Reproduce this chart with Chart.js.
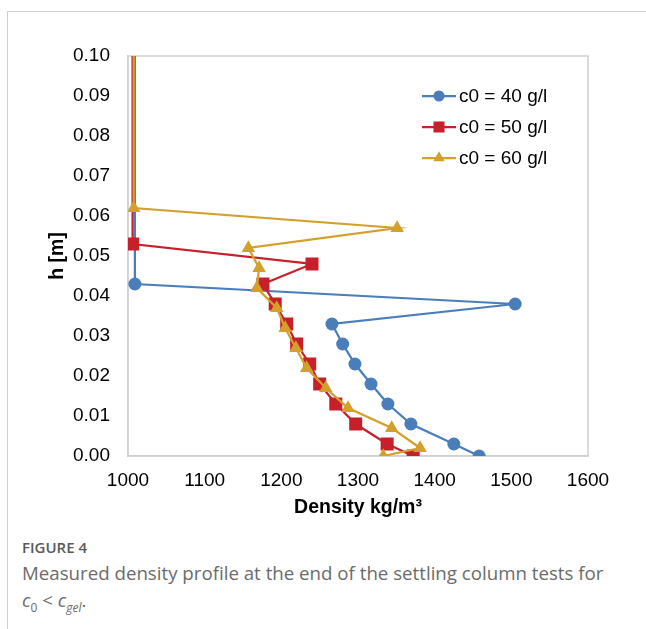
<!DOCTYPE html>
<html lang="en">
<head>
  <meta charset="UTF-8" />
  <title>Figure 4 - Density profile</title>
  <script src="https://cdn.jsdelivr.net/npm/chart.js"></script>
  <style>
    html, body { margin: 0; padding: 0; background: #fff; width: 646px; height: 629px; overflow: hidden; }
    .frame { position: absolute; left: 7px; top: 11px; width: 700px; height: 700px; border: 1px solid #cfcfcf; }
    .chart-box { position: absolute; left: 0; top: 0; width: 646px; height: 530px; }
    .caption { position: absolute; left: 22px; top: 537px; font-family: "Open Sans", "Noto Sans", sans-serif; color: #6b6b6b; }
    .fig-label { font-size: 15px; font-weight: 600; color: #595959; margin-bottom: 2px; }
    .fig-text { font-size: 18.7px; line-height: 27px; }
    .fig-text i { font-style: italic; }
  </style>
</head>
<body>
  <div class="frame"></div>
  <div class="chart-box"><canvas id="densityChart" width="646" height="530"></canvas></div>
  <div class="caption">
    <div class="fig-label">FIGURE 4</div>
    <div class="fig-text">Measured density profile at the end of the settling column tests for<br><i>c</i><sub style="font-size:12px">0</sub> &lt; <i>c</i><sub style="font-size:12px"><i>gel</i></sub>.</div>
  </div>
  <script>
    // values (density kg/m3 vs height m)
    const seriesNames = ['c0 = 40 g/l', 'c0 = 50 g/l', 'c0 = 60 g/l'];
    const seriesColors = ['#4a7ebb', '#c8202a', '#d4a02c'];
    const pointStyles = ['circle', 'rect', 'triangle'];

    const density40 = [1009, 1009, 1505, 1266, 1280, 1296, 1317, 1339, 1369, 1425, 1458];
    const height40  = [0.12, 0.043, 0.038, 0.033, 0.028, 0.023, 0.018, 0.013, 0.008, 0.003, 0.000];

    const density50 = [1006, 1006, 1240, 1176, 1192, 1207, 1220, 1237, 1250, 1271, 1297, 1338, 1372];
    const height50  = [0.12, 0.053, 0.048, 0.043, 0.038, 0.033, 0.028, 0.023, 0.018, 0.013, 0.008, 0.003, 0.000];

    const density60 = [1007.5, 1007.5, 1351, 1157, 1171, 1168, 1194, 1205, 1219, 1233, 1258, 1287, 1344, 1381, 1333];
    const height60  = [0.12, 0.062, 0.057, 0.052, 0.047, 0.042, 0.037, 0.032, 0.027, 0.022, 0.017, 0.012, 0.007, 0.002, 0.000];

    const xTicks = [1000, 1100, 1200, 1300, 1400, 1500, 1600];
    const yTicks = [0, 0.01, 0.02, 0.03, 0.04, 0.05, 0.06, 0.07, 0.08, 0.09, 0.10];

    const allDensity = [density40, density50, density60];
    const allHeight = [height40, height50, height60];
    const pointSizes = [6.5, 9.2, 7.8];

    const datasets = seriesNames.map((name, i) => ({
      label: name,
      data: allDensity[i].map((d, k) => ({ x: d, y: allHeight[i][k] })),
      borderColor: seriesColors[i],
      backgroundColor: seriesColors[i],
      borderWidth: 2.25,
      pointStyle: pointStyles[i],
      pointRadius: pointSizes[i],
      pointBorderWidth: 0,
      showLine: true,
      fill: false,
      tension: 0,
      order: 2 - i
    }));

    const tickFont = { family: 'Liberation Sans, Arial, sans-serif', size: 19 };
    const titleFont = { family: 'Liberation Sans, Arial, sans-serif', size: 19.5, weight: 'bold' };

    // plot frame (top/right sides) and the legend inside the plot
    const framePlugin = {
      id: 'framePlugin',
      beforeDatasetsDraw(chart) {
        const { ctx, chartArea: a } = chart;
        ctx.save();
        ctx.strokeStyle = '#d0d0d0';
        ctx.lineWidth = 1.5;
        ctx.strokeRect(a.left, a.top, a.right - a.left, a.bottom - a.top);
        ctx.restore();
      },
      afterDraw(chart) {
        const { ctx } = chart;
        ctx.save();
        ctx.font = '19px "Liberation Sans", Arial, sans-serif';
        ctx.textBaseline = 'middle';
        chart.data.datasets.forEach((ds, i) => {
          const y = 96 + i * 31;
          ctx.strokeStyle = ds.borderColor;
          ctx.lineWidth = 2.25;
          ctx.beginPath();
          ctx.moveTo(422, y);
          ctx.lineTo(456, y);
          ctx.stroke();
          ctx.fillStyle = ds.backgroundColor;
          Chart.helpers.drawPoint(ctx, { pointStyle: ds.pointStyle, radius: ds.pointRadius * 0.85, borderWidth: 0 }, 439, y);
          ctx.fillStyle = '#000';
          ctx.fillText(ds.label, 459, y + 1);
        });
        ctx.restore();
      }
    };

    new Chart(document.getElementById('densityChart'), {
      type: 'scatter',
      data: { datasets },
      plugins: [framePlugin],
      options: {
        responsive: false,
        animation: false,
        layout: { padding: { top: 56, right: 58, bottom: 0, left: 0 } },
        plugins: { legend: { display: false }, tooltip: { enabled: false } },
        scales: {
          x: {
            type: 'linear',
            min: 1000,
            max: 1600,
            afterBuildTicks: s => { s.ticks = xTicks.map(v => ({ value: v })); },
            afterFit: s => { s.height = 74; },
            grid: { display: false, drawTicks: false },
            border: { display: true, color: '#d0d0d0', width: 1.5 },
            ticks: { color: '#000', font: tickFont, padding: 13, maxRotation: 0, callback: v => String(v) },
            title: { display: true, text: 'Density kg/m³', color: '#000', font: titleFont, padding: { top: 4, bottom: 11 } }
          },
          y: {
            type: 'linear',
            min: 0,
            max: 0.1,
            afterBuildTicks: s => { s.ticks = yTicks.map(v => ({ value: v })); },
            afterFit: s => { s.width = 128; },
            grid: { display: false, drawTicks: false },
            border: { display: true, color: '#d0d0d0', width: 1.5 },
            ticks: { color: '#000', font: tickFont, padding: 18, callback: v => Number(v).toFixed(2) },
            title: { display: true, text: 'h [m]', color: '#000', font: titleFont, padding: { top: 46, bottom: 4 } }
          }
        }
      }
    });
  </script>
</body>
</html>
